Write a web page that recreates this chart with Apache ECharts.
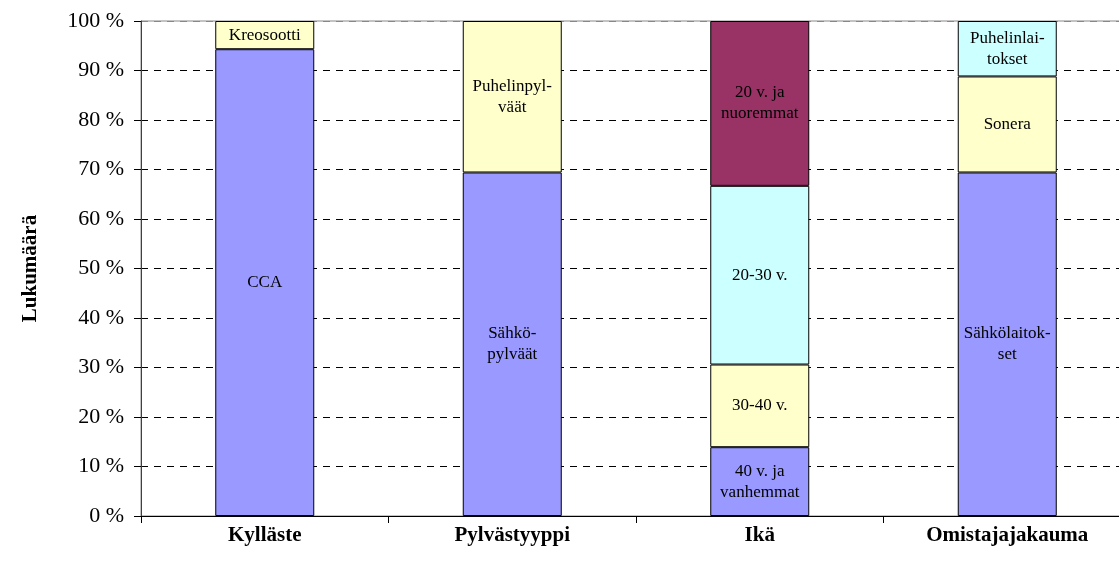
<!doctype html>
<html>
	<head>
		<meta charset="utf-8">
		<title>Lukumäärä</title>
		<style>
			html, body { margin: 0; padding: 0; background: #fff; overflow: hidden; }
			/* kuvaaja jatkuu hieman ikkunan oikean reunan yli */
			#chart { width: 1131px; height: 564px; }
		</style>
	</head>
	<body>
		<div id="chart"></div>
		<script src="https://cdn.jsdelivr.net/npm/echarts@6/dist/echarts.min.js"></script>
		<script type="text/javascript">
			// kategoriat
			var categories = ['Kylläste', 'Pylvästyyppi', 'Ikä', 'Omistajajakauma'];
			var yTicks = [0, 10, 20, 30, 40, 50, 60, 70, 80, 90, 100];

			// pinon osat alhaalta ylös
			var level1 = [94.3, 69.4, 13.9, 69.4];
			var level1Names = ['CCA', 'Sähkö-\npylväät', '40 v. ja\nvanhemmat', 'Sähkölaitok-\nset'];
			var level2 = [5.7, 30.6, 16.7, 19.4];
			var level2Names = ['Kreosootti', 'Puhelinpyl-\nväät', '30-40 v.', 'Sonera'];
			var level3 = ['-', '-', 36.1, 11.2];
			var level3Names = ['', '', '20-30 v.', 'Puhelinlai-\ntokset'];
			var level4 = ['-', '-', 33.3, '-'];
			var level4Names = ['', '', '20 v. ja\nnuoremmat', ''];

			var serif = '"Liberation Serif", "Times New Roman", serif';

			function makeSeries(name, values, names, color) {
				return {
					name: name,
					type: 'bar',
					stack: 'total',
					barWidth: '40%',
					data: values,
					itemStyle: {
						color: color,
						borderColor: '#000',
						borderWidth: 1
					},
					label: {
						show: true,
						position: 'inside',
						color: '#000',
						fontFamily: serif,
						fontSize: 17,
						lineHeight: 21,
						formatter: function(p) {
							return names[p.dataIndex];
						}
					}
				};
			}

			// ylin viiva harmaa, muut mustat katkoviivat
			var gridColors = yTicks.map(function(v) {
				return v == 100 ? '#888' : '#000';
			});

			var chart = echarts.init(document.getElementById('chart'));
			var option = {
				animation: false,
				grid: {
					left: 141,
					right: 0,
					top: 21,
					bottom: 48,
					show: true,
					borderColor: '#888',
					borderWidth: 1
				},
				xAxis: {
					type: 'category',
					data: categories,
					axisLine: { lineStyle: { color: '#000', width: 1 } },
					axisTick: { show: true, length: 7, lineStyle: { color: '#000' } },
					axisLabel: {
						color: '#000',
						fontFamily: serif,
						fontWeight: 'bold',
						fontSize: 21,
						margin: 9
					}
				},
				yAxis: {
					type: 'value',
					min: 0,
					max: 100,
					interval: 10,
					name: 'Lukumäärä',
					nameLocation: 'middle',
					nameRotate: 90,
					nameGap: 100,
					nameTextStyle: {
						color: '#000',
						fontFamily: serif,
						fontWeight: 'bold',
						fontSize: 21
					},
					axisLine: { show: true, lineStyle: { color: '#404040', width: 1 } },
					axisTick: { show: true, length: 7, lineStyle: { color: '#000' } },
					axisLabel: {
						color: '#000',
						fontFamily: serif,
						fontSize: 22,
						margin: 17,
						formatter: '{value} %'
					},
					splitLine: {
						show: true,
						lineStyle: { color: gridColors, type: [7, 6], width: 1 }
					}
				},
				series: [
					makeSeries('taso1', level1, level1Names, '#9999FF'),
					makeSeries('taso2', level2, level2Names, '#FFFFCC'),
					makeSeries('taso3', level3, level3Names, '#CCFFFF'),
					makeSeries('taso4', level4, level4Names, '#993366')
				]
			};
			chart.setOption(option);
		</script>
	</body>
</html>
